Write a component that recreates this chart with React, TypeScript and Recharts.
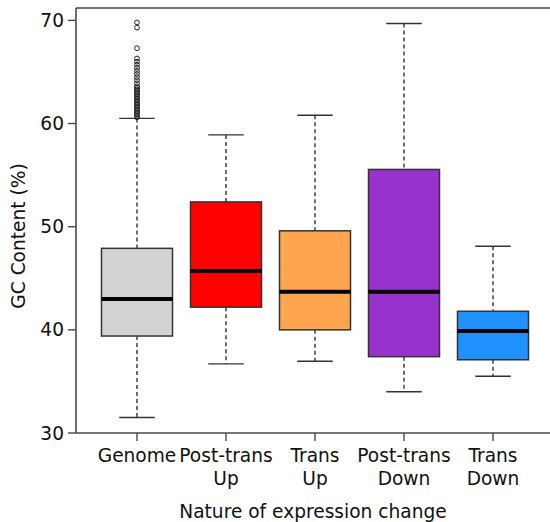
import React from "react";
import { ComposedChart, Bar, Scatter, XAxis, YAxis, ReferenceLine, Label } from "recharts";

// --- Data ---

const categories = ["Genome", "Post-trans Up", "Trans Up", "Post-trans Down", "Trans Down"];
const tickLabelLines = [["Genome"], ["Post-trans", "Up"], ["Trans", "Up"], ["Post-trans", "Down"], ["Trans", "Down"]];
const whiskerLow = [31.5, 36.7, 36.95, 34.0, 35.5];
const quartile1 = [39.4, 42.2, 40.0, 37.4, 37.1];
const medians = [43.0, 45.7, 43.7, 43.7, 39.9];
const quartile3 = [47.9, 52.4, 49.6, 55.55, 41.8];
const whiskerHigh = [60.5, 58.9, 60.8, 69.7, 48.1];
const genomeOutliers = [
  60.6, 60.75, 60.9, 61.05, 61.2, 61.35, 61.5, 61.65, 61.8, 61.95, 62.1, 62.25, 62.4, 62.55,
  62.7, 62.85, 63.0, 63.15, 63.3, 63.45, 63.6, 63.9, 64.2, 64.5, 64.8, 65.1, 65.4, 65.7, 66.0,
  66.3, 67.3, 69.3, 69.8,
];
const yTicks = [30, 40, 50, 60, 70];

const BOX_COLORS = ["#D3D3D3", "#FF0000", "#FFA54F", "#9932CC", "#1E90FF"];
const Y_DOMAIN: [number, number] = [30, 71.2];
const AXIS_COLOR = "#4a4a4a";
const FONT = "'DejaVu Sans', Verdana, sans-serif";
const FONT_SIZE = 18.6;

const rows = categories.map((cat, i) => ({
  cat,
  lo: whiskerLow[i],
  q1: quartile1[i],
  med: medians[i],
  q3: quartile3[i],
  hi: whiskerHigh[i],
  color: BOX_COLORS[i],
}));

const outlierRows = genomeOutliers.map((gc) => ({ cat: "Genome", gc }));

// --- Box shape: ranged bar [lo, hi] gives us pixel positions of the whisker ends ---

function BoxShape(props: any) {
  const { x, y, width, height, payload } = props;
  if (!payload || !Number.isFinite(height)) return null;
  const ppu = height / (payload.hi - payload.lo);
  const py = (v: number) => y + (payload.hi - v) * ppu;
  const cx = x + width / 2;
  const capHalf = width / 4;
  const stroke = "#333";
  return (
    <g>
      {/* whiskers */}
      <line x1={cx} x2={cx} y1={py(payload.hi)} y2={py(payload.q3)} stroke={stroke} strokeWidth={1.4} strokeDasharray="4 3" />
      <line x1={cx} x2={cx} y1={py(payload.q1)} y2={py(payload.lo)} stroke={stroke} strokeWidth={1.4} strokeDasharray="4 3" />
      <line x1={cx - capHalf} x2={cx + capHalf} y1={py(payload.hi)} y2={py(payload.hi)} stroke={stroke} strokeWidth={1.4} />
      <line x1={cx - capHalf} x2={cx + capHalf} y1={py(payload.lo)} y2={py(payload.lo)} stroke={stroke} strokeWidth={1.4} />
      {/* box */}
      <rect
        x={x}
        y={py(payload.q3)}
        width={width}
        height={py(payload.q1) - py(payload.q3)}
        fill={payload.color}
        stroke={stroke}
        strokeWidth={1.5}
      />
      {/* median */}
      <line x1={x} x2={x + width} y1={py(payload.med)} y2={py(payload.med)} stroke="#000" strokeWidth={4} />
    </g>
  );
}

function OutlierDot(props: any) {
  const { cx, cy } = props;
  if (!Number.isFinite(cx) || !Number.isFinite(cy)) return null;
  return <circle cx={cx} cy={cy} r={2.4} fill="none" stroke="#222" strokeWidth={1} />;
}

function CategoryTick(props: any) {
  const { x, y, payload } = props;
  const idx = categories.indexOf(payload?.value);
  const lines = idx >= 0 ? tickLabelLines[idx] : [String(payload?.value ?? "")];
  return (
    <text x={x} y={y + 19} textAnchor="middle" fill="#111" fontSize={FONT_SIZE} fontFamily={FONT}>
      {lines.map((line, i) => (
        <tspan key={i} x={x} dy={i === 0 ? 0 : 23}>
          {line}
        </tspan>
      ))}
    </text>
  );
}

export default function App() {
  return (
    <div style={{ position: "absolute", left: 0, top: 0, width: 550, height: 522, background: "#fff" }}>
      <ComposedChart
        width={550}
        height={522}
        data={rows}
        margin={{ top: 8, right: 0, bottom: 4, left: 0 }}
        style={{ fontFamily: FONT }}
      >
        <XAxis
          dataKey="cat"
          type="category"
          allowDuplicatedCategory={false}
          height={85}
          padding={{ left: 16.5, right: 12.5 }}
          axisLine={{ stroke: AXIS_COLOR, strokeWidth: 1.6 }}
          tickLine={{ stroke: AXIS_COLOR, strokeWidth: 1.4 }}
          tickSize={8}
          tickMargin={2}
          tick={<CategoryTick />}
          interval={0}
        >
          <Label
            value="Nature of expression change"
            position="insideBottom"
            offset={0}
            fill="#111"
            fontSize={FONT_SIZE}
            fontFamily={FONT}
          />
        </XAxis>
        <YAxis
          type="number"
          domain={Y_DOMAIN}
          ticks={yTicks}
          allowDataOverflow
          width={76}
          axisLine={{ stroke: AXIS_COLOR, strokeWidth: 1.6 }}
          tickLine={{ stroke: AXIS_COLOR, strokeWidth: 1.4 }}
          tickSize={8}
          tickMargin={4}
          tick={{ fill: "#111", fontSize: FONT_SIZE, fontFamily: FONT }}
        >
          <Label
            content={() => (
              <text
                x={25}
                y={236}
                transform="rotate(-90 25 236)"
                textAnchor="middle"
                fill="#111"
                fontSize={FONT_SIZE}
                fontFamily={FONT}
              >
                GC Content (%)
              </text>
            )}
          />
        </YAxis>
        <ReferenceLine y={Y_DOMAIN[1]} stroke={AXIS_COLOR} strokeWidth={1.6} ifOverflow="extendDomain" />
        <Bar
          dataKey={(d: any) => [d.lo, d.hi]}
          barSize={71}
          shape={<BoxShape />}
          isAnimationActive={false}
        />
        <Scatter
          data={outlierRows}
          dataKey="gc"
          shape={<OutlierDot />}
          isAnimationActive={false}
        />
      </ComposedChart>
    </div>
  );
}
